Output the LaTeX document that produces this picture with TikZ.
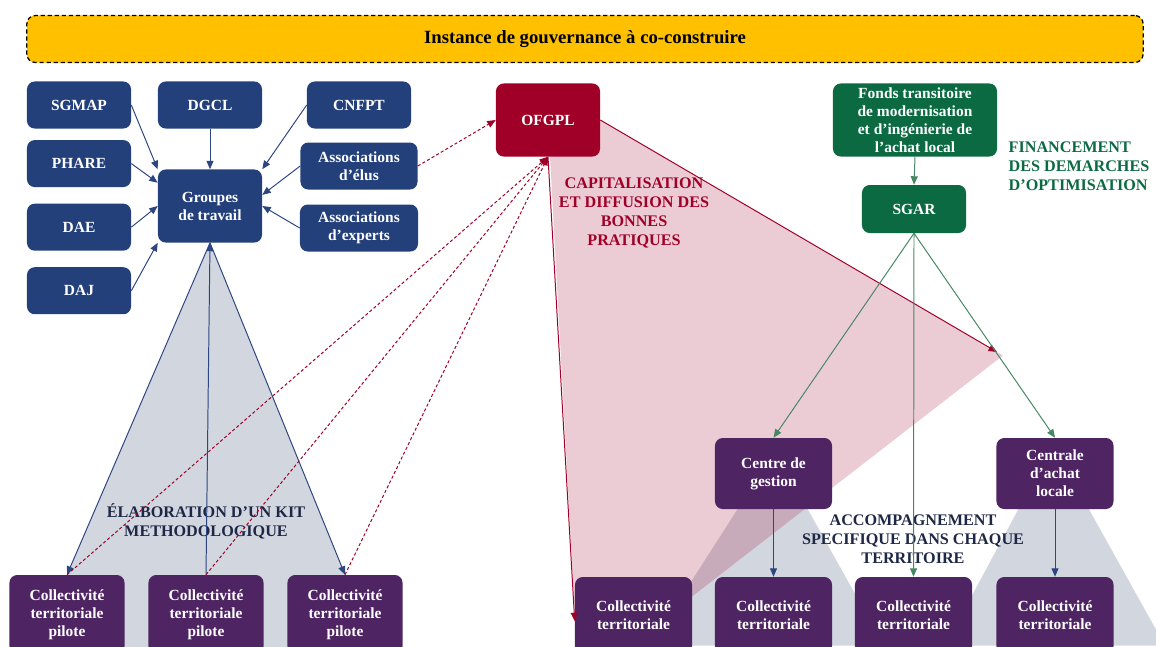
\documentclass[tikz,border=0pt]{standalone}
\usepackage{fontspec}
\setmainfont{Liberation Serif}
\usetikzlibrary{arrows.meta, positioning, calc, backgrounds}
\definecolor{navybox}{RGB}{35,64,122}
\definecolor{ofred}{RGB}{160,0,40}
\definecolor{fondgreen}{RGB}{12,106,66}
\definecolor{ctpurple}{RGB}{78,36,98}
\definecolor{bannerorange}{RGB}{255,192,0}
\definecolor{trigrey}{RGB}{209,214,223}
\definecolor{arrowblue}{RGB}{45,70,130}
\definecolor{arrowgreen}{RGB}{70,135,100}
\definecolor{headnavy}{RGB}{30,40,70}

\begin{document}
\begin{tikzpicture}[
  x=0.025cm, y=-0.025cm,
  font=\bfseries\fontsize{11}{12.8}\selectfont,
  gvbox/.style={rounded corners=5.5pt, align=center, text=white, inner sep=1pt},
  gvblue/.style={gvbox, fill=navybox, minimum width=2.6cm, minimum height=1.175cm},
  gvred/.style={gvbox, fill=ofred, minimum width=2.6cm, minimum height=1.825cm},
  gvgreen/.style={gvbox, fill=fondgreen, minimum width=2.6cm, minimum height=1.2cm},
  gvpurple/.style={gvbox, fill=ctpurple, minimum width=2.925cm, minimum height=1.775cm},
  gvpilot/.style={gvbox, fill=ctpurple, minimum width=2.875cm, minimum height=1.975cm},
  gvbanner/.style={draw=black, dash pattern=on 3pt off 2pt, line width=0.9pt,
                   rounded corners=6pt, fill=bannerorange, minimum width=27.9cm,
                   minimum height=1.175cm, font=\bfseries\fontsize{13.3}{15}\selectfont},
  gvtitle/.style={align=center, inner sep=1pt, font=\bfseries\fontsize{11.5}{13.5}\selectfont},
  gvtip/.style={-{Triangle[length=6pt,width=5pt]}},
  arblue/.style={draw=arrowblue, line width=0.7pt, gvtip},
  argreen/.style={draw=arrowgreen, line width=0.7pt, gvtip},
  arred/.style={draw=ofred, line width=0.7pt, gvtip},
  ardash/.style={draw=ofred, line width=0.7pt, dash pattern=on 2.2pt off 1.6pt, gvtip},
  gvtri/.style={fill=trigrey},
  gvpink/.style={fill=ofred, fill opacity=0.2}
]
\useasboundingbox (0,0) rectangle (1156,646);
\clip (0,0) rectangle (1156,646);

%--------------------------------------------------------------
% Bandeau
%--------------------------------------------------------------
\node[gvbanner] (instance) at (585,39) {Instance de gouvernance à co-construire};

%--------------------------------------------------------------
% Groupes de travail et acteurs
%--------------------------------------------------------------
\node[gvblue] (sgmap) at (79,105) {SGMAP};
\node[gvblue] (dgcl) at (210,105) {DGCL};
\node[gvblue] (cnfpt) at (359,105) {CNFPT};
\node[gvblue, below=0.275cm of sgmap] (phare) {PHARE};
\node[gvblue, below=0.4cm of phare] (dae) {DAE};
\node[gvblue, below=0.4cm of dae] (daj) {DAJ};
\node[gvblue, minimum height=1.825cm] (groupes) at (210,206) {Groupes\\de travail};
\node[gvblue, minimum width=2.925cm] (assoelus) at (359,166) {Associations\\d’élus};
\node[gvblue, minimum width=2.95cm] (assoexp) at (359,228) {Associations\\d’experts};

\node[gvpilot] (ctp1) at (67,614.5) {Collectivité\\territoriale\\pilote};
\node[gvpilot] (ctp2) at (206,614.5) {Collectivité\\territoriale\\pilote};
\node[gvpilot] (ctp3) at (345,614.5) {Collectivité\\territoriale\\pilote};

\node[gvtitle, text=headnavy] (kit) at (206,521) {ÉLABORATION D'UN KIT\\METHODOLOGIQUE};

%--------------------------------------------------------------
% OFGPL
%--------------------------------------------------------------
\node[gvred] (ofgpl) at (548,120) {OFGPL};
\node[gvtitle, text=ofred] (capi) at (634,213) {CAPITALISATION\\ET DIFFUSION DES\\BONNES\\PRATIQUES};
\coordinate (capend) at (997,352);

%--------------------------------------------------------------
% Financement et territoires
%--------------------------------------------------------------
\node[gvgreen, minimum width=4.1cm, minimum height=1.825cm] (fonds) at (915,120)
  {Fonds transitoire\\de modernisation\\et d’ingénierie de\\l’achat local};
\node[gvgreen] (sgar) at (914,209) {SGAR};
\node[gvtitle, text=fondgreen, align=left, anchor=west] (finance) at (1007,166)
  {FINANCEMENT\\DES DEMARCHES\\D’OPTIMISATION};

\node[gvpurple] (centre) at (773.5,473.5) {Centre de\\gestion};
\node[gvpurple] (centrale) at (1055,473.5) {Centrale\\d’achat\\locale};

\node[gvpurple, minimum height=1.925cm] (ct1) at (633.5,615.5) {Collectivité\\territoriale};
\node[gvpurple, minimum height=1.925cm] (ct2) at (773.5,615.5) {Collectivité\\territoriale};
\node[gvpurple, minimum height=1.925cm] (ct3) at (913.5,615.5) {Collectivité\\territoriale};
\node[gvpurple, minimum height=1.925cm] (ct4) at (1055,615.5) {Collectivité\\territoriale};

\node[gvtitle, text=headnavy] (accomp) at (913,539)
  {ACCOMPAGNEMENT\\SPECIFIQUE DANS CHAQUE\\TERRITOIRE};

%--------------------------------------------------------------
% Zones en fond
%--------------------------------------------------------------
\begin{scope}[on background layer]
  \fill[gvtri] (groupes.south) -- ($(groupes.south)!1.22!(ctp1.north)$)
    -- ($(groupes.south)!1.22!(ctp3.north)$) -- cycle;
  \fill[gvtri] ($(centre.north)+(1.5,13)$) -- ($(centre.north)+(-123.5,208)$)
    -- ($(centre.north)+(110.5,208)$) -- cycle;
  \fill[gvtri] ($(centrale.north)+(-2,7)$) -- ($(centrale.north)+(-110,208)$)
    -- ($(centrale.north)+(110,208)$) -- cycle;
  \fill[gvpink] (ofgpl.center) -- (ofgpl.east) -- ($(ofgpl.east)!1.015!(capend)$)
    -- ($(ofgpl.south)!1.15!(ct1.west)$) -- cycle;
\end{scope}

%--------------------------------------------------------------
% Liens
%--------------------------------------------------------------
\draw[arblue] (sgmap.east) -- (groupes.north west);
\draw[arblue] (dgcl.south) -- (groupes.north);
\draw[arblue] (cnfpt.west) -- (groupes.north east);
\draw[arblue] (phare.east) -- (groupes.156);
\draw[arblue] (dae.east) -- (groupes.west);
\draw[arblue] (daj.east) -- (groupes.south west);
\draw[arblue] (assoelus.west) -- (groupes.12);
\draw[arblue] (assoexp.west) -- (groupes.east);

\draw[arblue] (groupes.south) -- (ctp1.north);
\draw[arblue, {Triangle[length=6pt,width=5pt]}-] (groupes.south) -- (ctp2.north);
\draw[arblue] (groupes.south) -- (ctp3.north);

\draw[ardash] (assoelus.east) -- (ofgpl.west);
\draw[ardash] (ctp1.north) -- (ofgpl.south);
\draw[ardash] (ctp2.north) -- (ofgpl.south);
\draw[ardash] (ctp3.north) -- (ofgpl.south);

\draw[arred] (ofgpl.south) -- ([yshift=-4pt]ct1.west);
\draw[arred] (ofgpl.east) -- (capend);

\draw[argreen] (fonds.south) -- (sgar.north);
\draw[argreen] (sgar.south) -- (centre.north);
\draw[argreen] (sgar.south) -- (ct3.north);
\draw[argreen] (sgar.south) -- (centrale.north);

\draw[arblue] (centre.south) -- (ct2.north);
\draw[arblue] (centrale.south) -- (ct4.north);

\end{tikzpicture}
\end{document}
